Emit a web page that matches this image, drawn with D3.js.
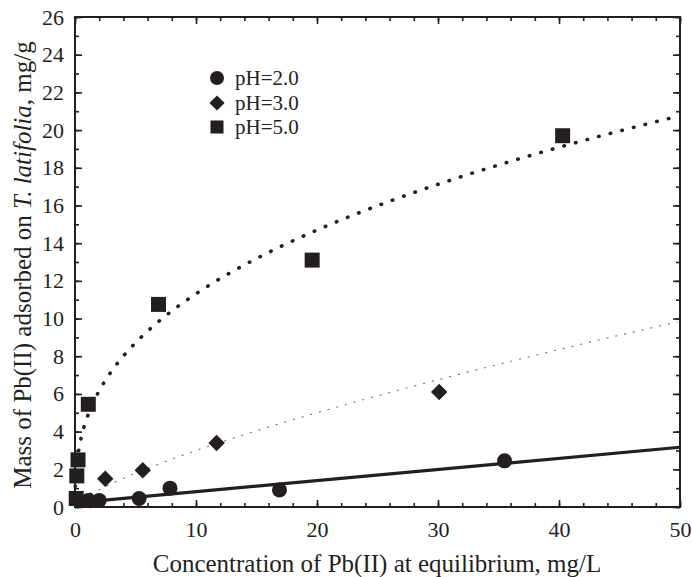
<!DOCTYPE html>
<html>
<head>
<meta charset="utf-8">
<title>Pb(II) adsorption</title>
<script src="https://d3js.org/d3.v7.min.js"></script>
<style>
  body { margin: 0; background: #fff; }
  text { font-family: "Liberation Serif", "Times New Roman", serif; fill: #231f20; }
</style>
</head>
<body>
<script>
// data
var ph2x = [1.1, 2.0, 5.3, 7.85, 16.9, 35.5];
var ph2y = [0.35, 0.35, 0.45, 1.0, 0.9, 2.45];
var ph3x = [1.3, 2.5, 5.6, 11.7, 30.1];
var ph3y = [0.35, 1.5, 1.95, 3.4, 6.1];
var ph5x = [0.1, 0.15, 0.25, 1.1, 6.9, 19.6, 40.3];
var ph5y = [0.45, 1.65, 2.5, 5.45, 10.75, 13.1, 19.7];

// fitted curves
var fit2 = {a: 0.22, b: 0.059};        // linear
var fit3 = {k: 0.545, n: 0.74};        // k * x^n
var fit5 = {k: 4.75, n: 0.377};

var xTicks = [0, 10, 20, 30, 40, 50];
var yTicks = d3.range(0, 27, 2);

var width = 692, height = 577;
var margin = {top: 17, right: 12, bottom: 70, left: 75};
var w = 680 - margin.left, h = 507 - margin.top;

var svg = d3.select("body").append("svg")
    .attr("width", width).attr("height", height);
var g = svg.append("g")
    .attr("transform", "translate(" + margin.left + "," + margin.top + ")");

var x = d3.scaleLinear().domain([0, 50]).range([0, w]);
var y = d3.scaleLinear().domain([0, 26]).range([h, 0]);

var ink = "#231f20";

// axes - ticks point inward on all four sides
function styleAxis(sel) {
    sel.select(".domain").remove();
    sel.selectAll("line").attr("stroke", ink).attr("stroke-width", 1.6);
    sel.selectAll("text").style("font-size", "22px").attr("fill", ink);
}
g.append("g").attr("transform", "translate(0," + h + ")")
    .call(d3.axisBottom(x).tickValues(xTicks).tickSize(-7).tickPadding(14))
    .call(styleAxis);
g.append("g").attr("transform", "translate(0," + h + ")")
    .call(d3.axisBottom(x).tickValues(d3.range(0, 51, 2)).tickSize(-4).tickFormat(""))
    .call(styleAxis);
g.append("g")
    .call(d3.axisTop(x).tickValues(xTicks).tickSize(-7).tickFormat(""))
    .call(styleAxis);
g.append("g")
    .call(d3.axisTop(x).tickValues(d3.range(0, 51, 2)).tickSize(-4).tickFormat(""))
    .call(styleAxis);
g.append("g")
    .call(d3.axisLeft(y).tickValues(yTicks).tickSize(-7).tickPadding(11))
    .call(styleAxis);
g.append("g")
    .call(d3.axisLeft(y).tickValues(d3.range(0, 27, 1)).tickSize(-4).tickFormat(""))
    .call(styleAxis);
g.append("g").attr("transform", "translate(" + w + ",0)")
    .call(d3.axisRight(y).tickValues(yTicks).tickSize(-7).tickFormat(""))
    .call(styleAxis);
g.append("g").attr("transform", "translate(" + w + ",0)")
    .call(d3.axisRight(y).tickValues(d3.range(0, 27, 1)).tickSize(-4).tickFormat(""))
    .call(styleAxis);

g.append("rect").attr("width", w).attr("height", h)
    .attr("fill", "none").attr("stroke", ink).attr("stroke-width", 2);

// fitted lines
var line = d3.line().x(function(d) { return x(d[0]); }).y(function(d) { return y(d[1]); });
var xs = d3.range(0, 50.01, 0.25);
var c2 = [[0, fit2.a], [50, fit2.a + fit2.b * 50]];
var c3 = d3.range(1.3, 50.01, 0.25).map(function(v) { return [v, fit3.k * Math.pow(v, fit3.n)]; });
var c5 = [0.02, 0.05, 0.1, 0.15].concat(xs.slice(1)).map(function(v) { return [v, fit5.k * Math.pow(v, fit5.n)]; });

g.append("path").datum(c2).attr("d", line)
    .attr("fill", "none").attr("stroke", ink).attr("stroke-width", 3.2);
g.append("path").datum(c3).attr("d", line)
    .attr("fill", "none").attr("stroke", "#7a7a7a").attr("stroke-width", 1.2)
    .attr("stroke-dasharray", "2,7");
g.append("path").datum(c5).attr("d", line)
    .attr("fill", "none").attr("stroke", ink).attr("stroke-width", 3.6)
    .attr("stroke-linecap", "round").attr("stroke-dasharray", "0.5,11.5");

// markers (diamond = square turned 45 degrees)
var sq = d3.symbol().type(d3.symbolSquare).size(225);
var dm = d3.symbol().type(d3.symbolSquare).size(135);

g.selectAll(".c2").data(d3.zip(ph2x, ph2y)).enter().append("circle")
    .attr("cx", function(d) { return x(d[0]); })
    .attr("cy", function(d) { return y(d[1]); })
    .attr("r", 7.5).attr("fill", ink);
g.selectAll(".d3").data(d3.zip(ph3x, ph3y)).enter().append("path")
    .attr("d", dm)
    .attr("transform", function(d) { return "translate(" + x(d[0]) + "," + y(d[1]) + ") rotate(45)"; })
    .attr("fill", ink);
g.selectAll(".s5").data(d3.zip(ph5x, ph5y)).enter().append("path")
    .attr("d", sq)
    .attr("transform", function(d) { return "translate(" + x(d[0]) + "," + y(d[1]) + ")"; })
    .attr("fill", ink);

// legend
var legend = ["pH=2.0", "pH=3.0", "pH=5.0"];
var lg = svg.append("g").attr("transform", "translate(217,78)");
lg.append("circle").attr("cx", 0).attr("cy", 0).attr("r", 7).attr("fill", ink);
lg.append("path").attr("d", d3.symbol().type(d3.symbolSquare).size(115))
    .attr("transform", "translate(0,25) rotate(45)").attr("fill", ink);
lg.append("path").attr("d", d3.symbol().type(d3.symbolSquare).size(170))
    .attr("transform", "translate(0,49)").attr("fill", ink);
lg.selectAll("text").data(legend).enter().append("text")
    .attr("x", 18).attr("y", function(d, i) { return i * 24.5 + 7; })
    .style("font-size", "21px").text(function(d) { return d; });

// axis titles
svg.append("text").attr("x", 377).attr("y", 572).attr("text-anchor", "middle")
    .style("font-size", "25px").text("Concentration of Pb(II) at equilibrium, mg/L");
var yt = svg.append("text").attr("transform", "translate(31,265) rotate(-90)")
    .attr("text-anchor", "middle").style("font-size", "25px");
yt.append("tspan").text("Mass of Pb(II) adsorbed on ");
yt.append("tspan").style("font-style", "italic").text("T. latifolia");
yt.append("tspan").text(", mg/g");
</script>
</body>
</html>
